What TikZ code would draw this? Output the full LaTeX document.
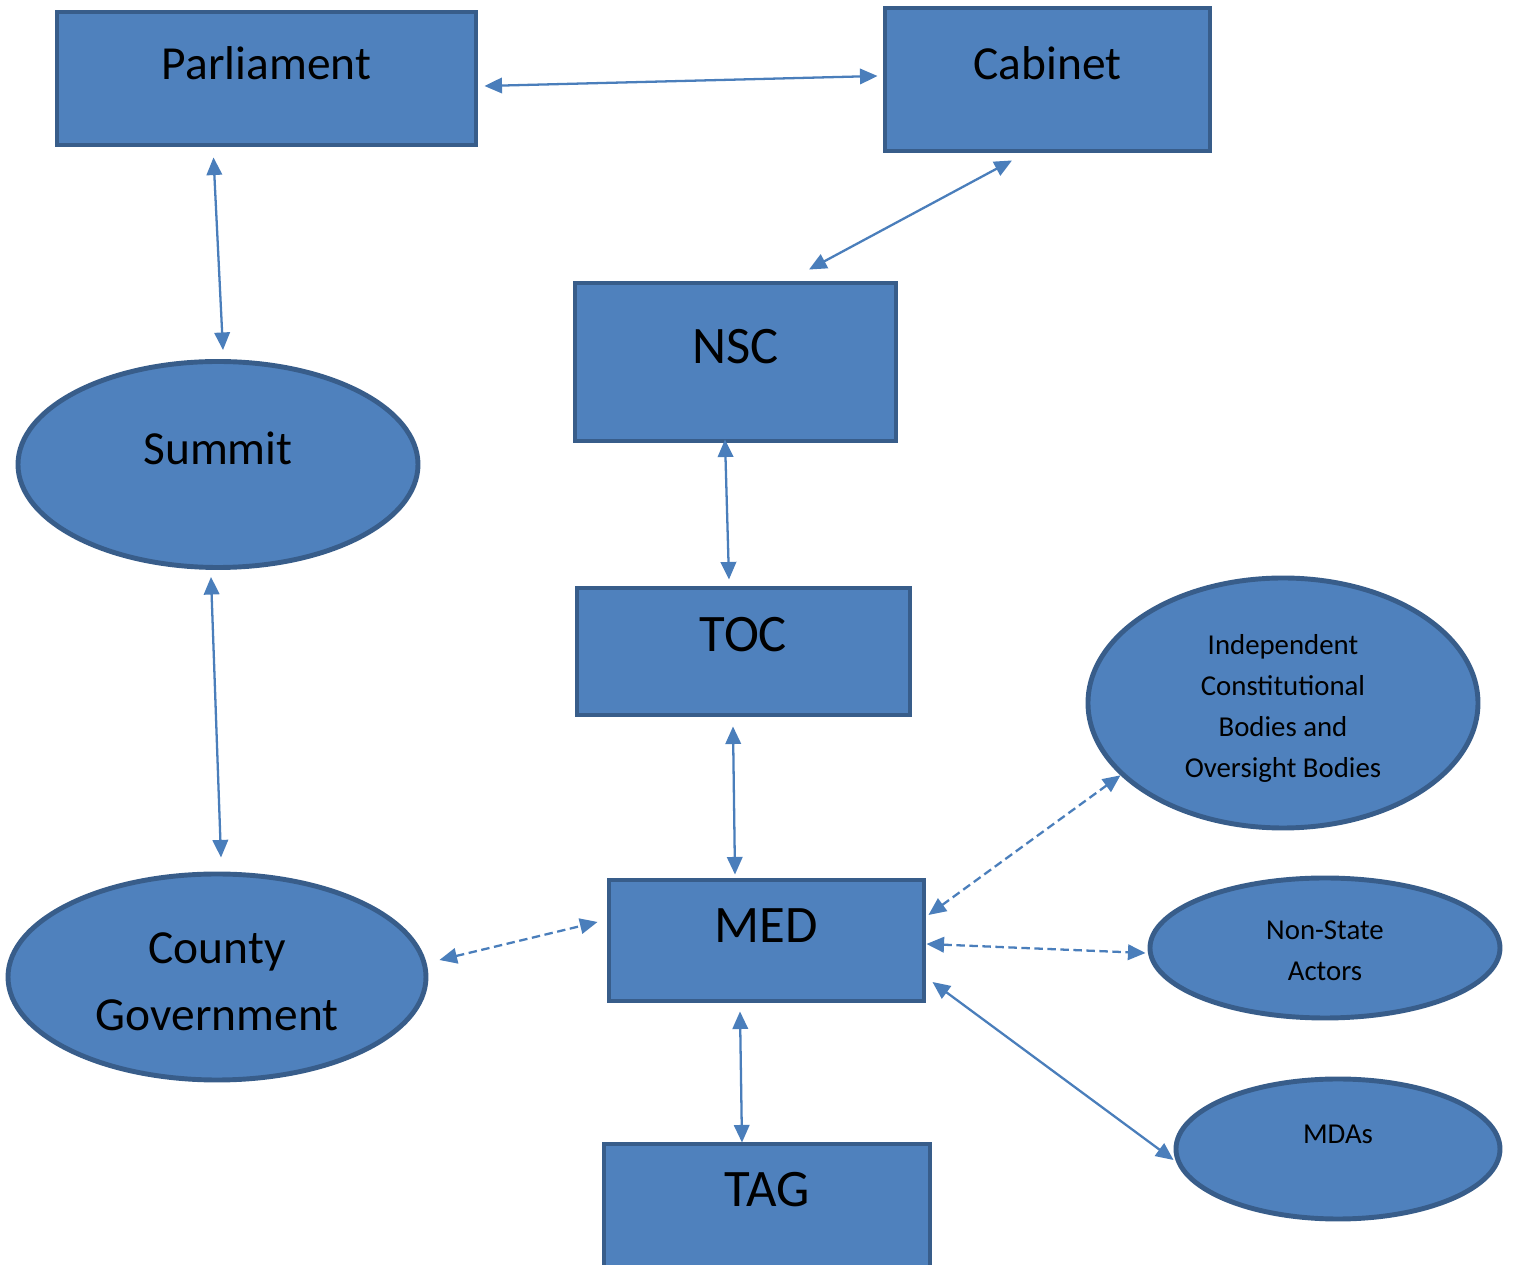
\documentclass[tikz,border=0pt]{standalone}
\usepackage{fontspec}
\setmainfont{Carlito}
\usetikzlibrary{shapes.geometric,arrows.meta}
\definecolor{boxblue}{RGB}{79,129,189}
\definecolor{edgeblue}{RGB}{56,93,138}
\definecolor{lineblue}{RGB}{74,126,187}

\begin{document}
\begin{tikzpicture}[
    every node/.style={align=center},
    box/.style={rectangle, draw=edgeblue, fill=boxblue, line width=1.4pt, inner sep=0pt},
    oval/.style={ellipse, draw=edgeblue, fill=boxblue, line width=1.4pt, inner sep=0pt},
    big/.style={font=\fontsize{15}{18}\selectfont},
    mid/.style={font=\fontsize{13.5}{19}\selectfont},
    small/.style={font=\fontsize{8.2}{11.7}\selectfont},
    arrow/.style={draw=lineblue, line width=0.65pt, {Triangle[length=5pt,width=4.4pt]}-{Triangle[length=5pt,width=4.4pt]}},
    dasharrow/.style={arrow, dash pattern=on 2.4pt off 1.3pt}
]
\useasboundingbox (0,0) rectangle (15.14,-12.65);

% Top level
\node[box, minimum width=4.19cm, minimum height=1.33cm, label={[mid,yshift=0.155cm]center:Parliament}] (parliament) at (2.665,-0.785) {};
\node[box, minimum width=3.25cm, minimum height=1.43cm, label={[mid,yshift=0.165cm]center:Cabinet}] (cabinet) at (10.475,-0.795) {};

% Central chain
\node[box, minimum width=3.21cm, minimum height=1.58cm, label={[big,yshift=0.15cm]center:NSC}] (nsc) at (7.355,-3.62) {};
\node[box, minimum width=3.33cm, minimum height=1.27cm, label={[big,yshift=0.165cm]center:TOC}] (toc) at (7.435,-6.515) {};
\node[box, minimum width=3.15cm, minimum height=1.21cm, label={[big,yshift=0.145cm]center:MED}] (med) at (7.665,-9.405) {};
\node[box, minimum width=3.26cm, minimum height=1.26cm, label={[big,yshift=0.17cm]center:TAG}] (tag) at (7.67,-12.07) {};

% Counties
\node[oval, minimum width=4.0cm, minimum height=2.06cm, label={[mid,yshift=0.16cm]center:Summit}] (summit) at (2.18,-4.645) {};
\node[oval, minimum width=4.18cm, minimum height=2.06cm, label={[mid,align=center,yshift=-0.045cm]center:{County\\Government}}] (county) at (2.17,-9.77) {};

% Partners
\node[oval, minimum width=3.9cm, minimum height=2.5cm, label={[small,align=center,yshift=-0.055cm]center:{Independent\\Constitutional\\Bodies and\\Oversight Bodies}}] (oversight) at (12.83,-7.03) {};
\node[oval, minimum width=3.5cm, minimum height=1.4cm, label={[small,align=center,yshift=-0.025cm]center:{Non-State\\Actors}}] (nonstate) at (13.25,-9.48) {};
\node[oval, minimum width=3.24cm, minimum height=1.4cm, label={[small,yshift=0.15cm]center:MDAs}] (mdas) at (13.38,-11.49) {};

% Connections
\draw[arrow] ([xshift=0.06cm,yshift=-0.075cm]parliament.east) -- ([xshift=-0.05cm,yshift=0.035cm]cabinet.west);
\draw[arrow] ([xshift=-0.53cm,yshift=-0.1cm]parliament.south) -- ([xshift=0.05cm,yshift=0.09cm]summit.north);
\draw[arrow] ([xshift=-0.355cm,yshift=-0.07cm]cabinet.south) -- ([xshift=0.735cm,yshift=0.11cm]nsc.north);
\draw[arrow] ([xshift=-0.07cm,yshift=-0.07cm]summit.south) -- ([xshift=0.04cm,yshift=0.14cm]county.north);
\draw[arrow] ([xshift=-0.105cm,yshift=0.04cm]nsc.south) -- ([xshift=-0.145cm,yshift=0.06cm]toc.north);
\draw[arrow] ([xshift=-0.105cm,yshift=-0.09cm]toc.south) -- ([xshift=-0.315cm,yshift=0.03cm]med.north);
\draw[dasharrow] ([xshift=0.11cm,yshift=0.17cm]county.east) -- ([xshift=-0.09cm,yshift=0.185cm]med.west);
\draw[dasharrow] ([xshift=0.02cm,yshift=0.255cm]med.east) -- (oversight.204);
\draw[dasharrow] ([yshift=-0.035cm]med.east) -- ([xshift=-0.02cm,yshift=-0.05cm]nonstate.west);
\draw[arrow] ([xshift=0.06cm,yshift=-0.415cm]med.east) -- ([yshift=-0.11cm]mdas.west);
\draw[arrow] ([xshift=-0.265cm,yshift=-0.08cm]med.south) -- ([xshift=-0.25cm,yshift=-0.01cm]tag.north);

\end{tikzpicture}
\end{document}
